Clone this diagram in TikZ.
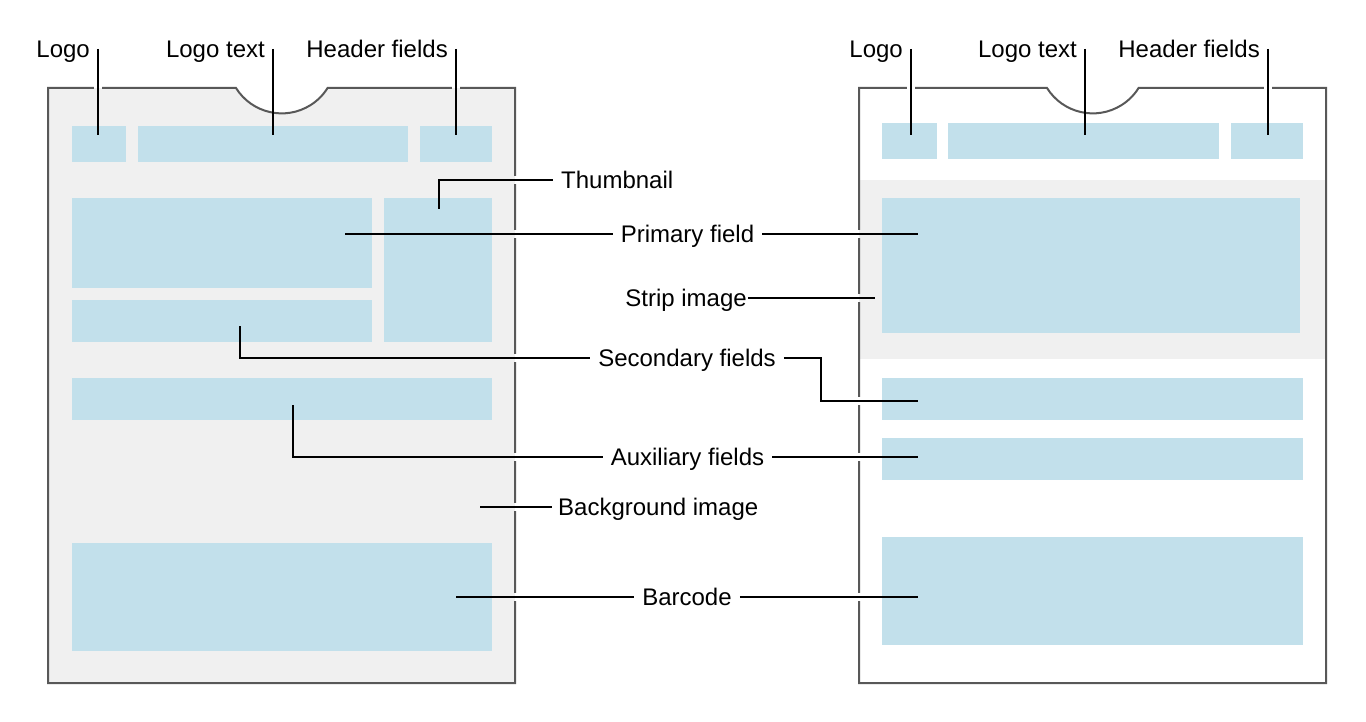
\documentclass[tikz,border=0pt]{standalone}
\usepackage{fontspec}
\setmainfont{Liberation Sans}
\usepackage{tikz}

\definecolor{cardgray}{RGB}{240,240,240}
\definecolor{fieldblue}{RGB}{194,224,235}
\definecolor{edgegray}{RGB}{88,88,88}

\begin{document}
\begin{tikzpicture}[x=1pt, y=-1pt,
    card/.style={draw=edgegray, line width=2pt},
    field/.style={fill=fieldblue},
    leader/.style={draw=black, line width=2.4pt},
    lbl/.style={font=\fontsize{24}{28}\selectfont, inner xsep=8pt, inner ysep=0pt,
                text height=17pt, text depth=0pt}]

      \useasboundingbox (0,0) rectangle (1366,722);

      % left pass, with background image
      \path[card, fill=cardgray] (48,88) -- (236,88)
            arc[start angle=212, end angle=328, radius=54pt] -- (515,88)
            -- (515,683) -- (48,683) -- cycle;

      \fill[field] (72,126) rectangle (126,162);
      \fill[field] (138,126) rectangle (408,162);
      \fill[field] (420,126) rectangle (492,162);
      \fill[field] (72,198) rectangle (372,288);
      \fill[field] (384,198) rectangle (492,342);
      \fill[field] (72,300) rectangle (372,342);
      \fill[field] (72,378) rectangle (492,420);
      \fill[field] (72,543) rectangle (492,651);

      % right pass, with strip image
      \fill[cardgray] (859,180) rectangle (1326,359);
      \path[card] (859,88) -- (1047,88)
            arc[start angle=212, end angle=328, radius=54pt] -- (1326,88)
            -- (1326,683) -- (859,683) -- cycle;

      \fill[field] (882,123) rectangle (937,159);
      \fill[field] (948,123) rectangle (1219,159);
      \fill[field] (1231,123) rectangle (1303,159);
      \fill[field] (882,198) rectangle (1300,333);
      \fill[field] (882,378) rectangle (1303,420);
      \fill[field] (882,438) rectangle (1303,480);
      \fill[field] (882,537) rectangle (1303,645);

      % breaks in the borders where the leaders pass
      \foreach \y in {180,234,358,457,507,597}{
        \fill[cardgray] (511,\y-4) rectangle (515,\y+4);
        \fill[white] (515,\y-4) rectangle (519,\y+4);
      }
      \foreach \y/\c in {234/cardgray,298/cardgray,401/white,457/white,597/white}{
        \fill[white] (855,\y-4) rectangle (859,\y+4);
        \fill[\c] (859,\y-4) rectangle (863,\y+4);
      }
      \foreach \x in {98,456}{
        \fill[white] (\x-4,84) rectangle (\x+4,88);
        \fill[cardgray] (\x-4,88) rectangle (\x+4,92);
      }
      \foreach \x in {911,1268}{
        \fill[white] (\x-4,84) rectangle (\x+4,92);
      }

      \coordinate (logoLpt) at (98,135);
      \coordinate (logotextLpt) at (273,135);
      \coordinate (headerLpt) at (456,135);
      \coordinate (logoRpt) at (911,135);
      \coordinate (logotextRpt) at (1085,135);
      \coordinate (headerRpt) at (1268,135);
      \coordinate (thumbpt) at (439,209);
      \coordinate (primaryL) at (345,234);
      \coordinate (primaryR) at (918,234);
      \coordinate (strippt) at (875,298);
      \coordinate (secondaryL) at (240,326);
      \coordinate (secondarybend) at (821,401);
      \coordinate (secondaryR) at (918,401);
      \coordinate (auxiliaryL) at (293,405);
      \coordinate (auxiliaryR) at (918,457);
      \coordinate (backgroundpt) at (480,507);
      \coordinate (barcodeL) at (456,597);
      \coordinate (barcodeR) at (918,597);

	\node[lbl, anchor=east] (logoL) at (98,49) {Logo};
	\node[lbl, anchor=east] (logotextL) at (273,49) {Logo text};
	\node[lbl, anchor=east] (headerL) at (456,49) {Header fields};
	\node[lbl, anchor=east] (logoR) at (911,49) {Logo};
	\node[lbl, anchor=east] (logotextR) at (1085,49) {Logo text};
	\node[lbl, anchor=east] (headerR) at (1268,49) {Header fields};

	\node[lbl, anchor=west] (thumbnail) at (553,180) {Thumbnail};
	\node[lbl] (primary) at (687.5,234) {Primary field};
	\node[lbl, anchor=east, inner xsep=1pt] (strip) at (748,298) {Strip image};
	\node[lbl] (secondary) at (687,358) {Secondary fields};
	\node[lbl] (auxiliary) at (687.5,457) {Auxiliary fields};
	\node[lbl, anchor=west, inner xsep=6pt] (background) at (552,507) {Background image};
	\node[lbl] (barcode) at (687,597) {Barcode};

      \draw[leader] (logoL.east) -- (logoLpt);
      \draw[leader] (logotextL.east) -- (logotextLpt);
      \draw[leader] (headerL.east) -- (headerLpt);
      \draw[leader] (logoR.east) -- (logoRpt);
      \draw[leader] (logotextR.east) -- (logotextRpt);
      \draw[leader] (headerR.east) -- (headerRpt);

      \draw[leader] (thumbpt) |- (thumbnail.west);
      \draw[leader] (primaryL) -- (primary.west);
      \draw[leader] (primary.east) -- (primaryR);
      \draw[leader] (strip.east) -- (strippt);
      \draw[leader] (secondaryL) |- (secondary.west);
      \draw[leader] (secondary.east) -| (secondarybend) -- (secondaryR);
      \draw[leader] (auxiliaryL) |- (auxiliary.west);
      \draw[leader] (auxiliary.east) -- (auxiliaryR);
      \draw[leader] (backgroundpt) -- (background.west);
      \draw[leader] (barcodeL) -- (barcode.west);
      \draw[leader] (barcode.east) -- (barcodeR);
    \end{tikzpicture}
\end{document}
